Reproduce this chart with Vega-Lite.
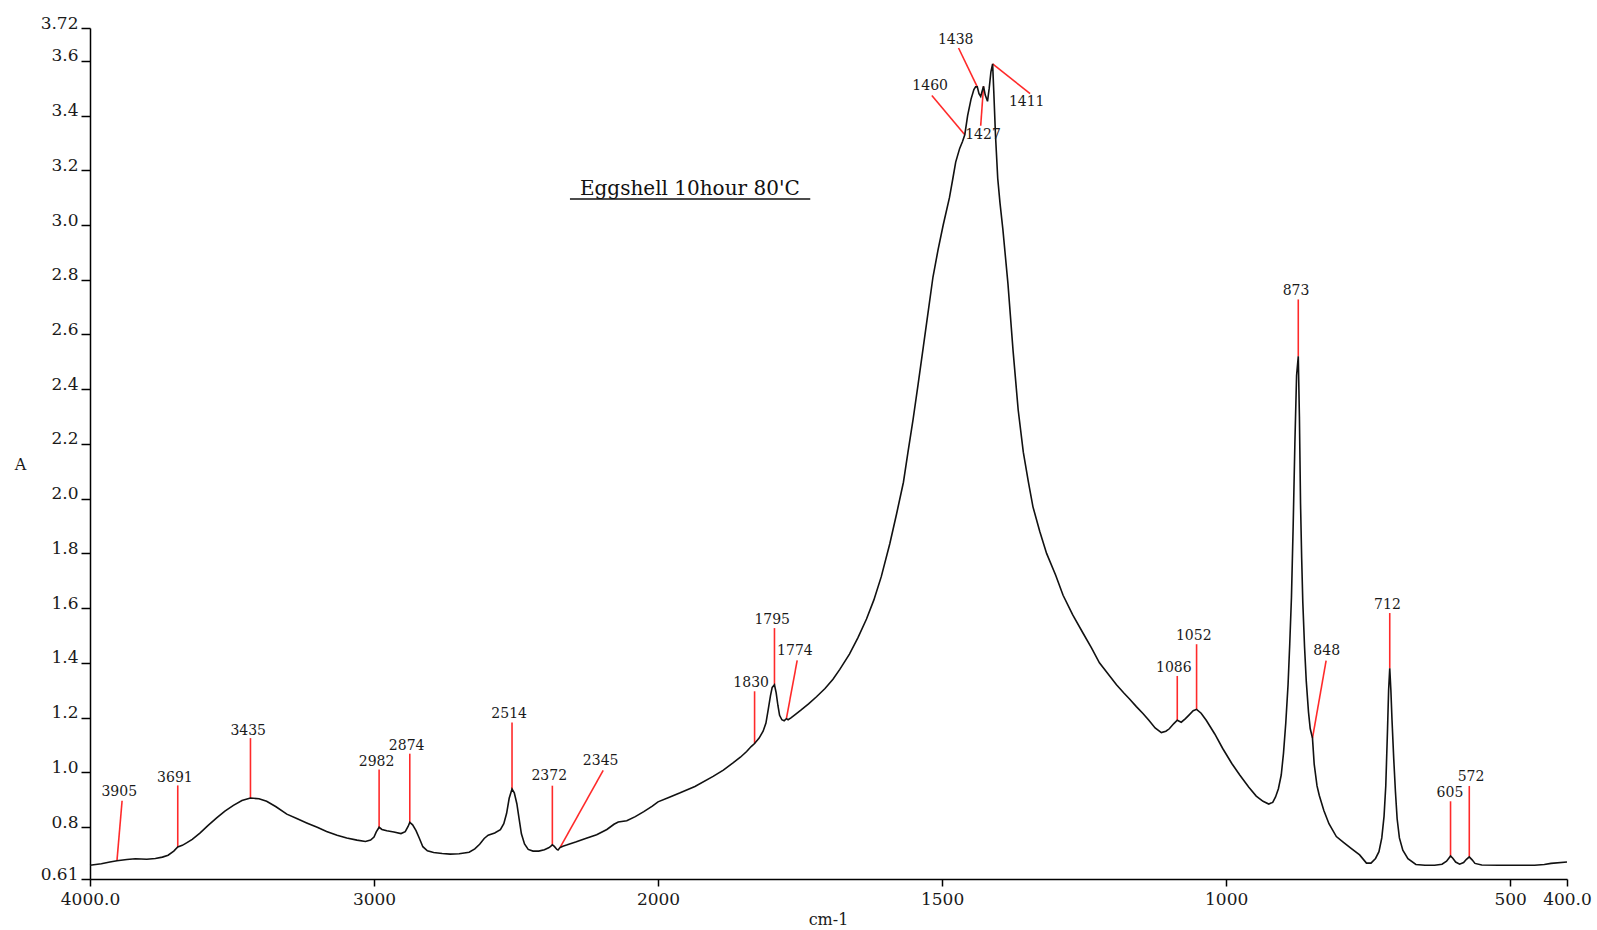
{
  "$schema": "https://vega.github.io/schema/vega-lite/v6.json",
  "width": 1477,
  "height": 851,
  "autosize": "none",
  "padding": {"left": 90, "top": 28, "right": 30, "bottom": 51},
  "background": "white",
  "config": {"view": {"stroke": null}, "font": "DejaVu Serif"},
  "datasets": {
    "spectrum": [
      {"wn": 4000, "a": 0.66}, {"wn": 3960, "a": 0.666}, {"wn": 3930, "a": 0.672}, {"wn": 3905, "a": 0.677},
      {"wn": 3870, "a": 0.681}, {"wn": 3840, "a": 0.684}, {"wn": 3800, "a": 0.682}, {"wn": 3770, "a": 0.685},
      {"wn": 3745, "a": 0.69}, {"wn": 3725, "a": 0.697}, {"wn": 3705, "a": 0.712}, {"wn": 3691, "a": 0.727},
      {"wn": 3675, "a": 0.733}, {"wn": 3660, "a": 0.742}, {"wn": 3640, "a": 0.755}, {"wn": 3613, "a": 0.778},
      {"wn": 3585, "a": 0.805}, {"wn": 3554, "a": 0.833}, {"wn": 3525, "a": 0.858}, {"wn": 3495, "a": 0.879},
      {"wn": 3465, "a": 0.897}, {"wn": 3435, "a": 0.906}, {"wn": 3405, "a": 0.903}, {"wn": 3378, "a": 0.894},
      {"wn": 3345, "a": 0.874}, {"wn": 3307, "a": 0.847}, {"wn": 3270, "a": 0.83}, {"wn": 3237, "a": 0.815},
      {"wn": 3200, "a": 0.799}, {"wn": 3167, "a": 0.784}, {"wn": 3130, "a": 0.77}, {"wn": 3096, "a": 0.76},
      {"wn": 3060, "a": 0.752}, {"wn": 3030, "a": 0.747}, {"wn": 3012, "a": 0.752}, {"wn": 3000, "a": 0.763},
      {"wn": 2992, "a": 0.782}, {"wn": 2982, "a": 0.799}, {"wn": 2972, "a": 0.791}, {"wn": 2955, "a": 0.786},
      {"wn": 2930, "a": 0.782}, {"wn": 2905, "a": 0.776}, {"wn": 2890, "a": 0.783}, {"wn": 2880, "a": 0.802},
      {"wn": 2874, "a": 0.817}, {"wn": 2864, "a": 0.808}, {"wn": 2852, "a": 0.787}, {"wn": 2840, "a": 0.758},
      {"wn": 2828, "a": 0.728}, {"wn": 2812, "a": 0.713}, {"wn": 2790, "a": 0.707}, {"wn": 2760, "a": 0.703},
      {"wn": 2732, "a": 0.701}, {"wn": 2700, "a": 0.702}, {"wn": 2665, "a": 0.708}, {"wn": 2645, "a": 0.72},
      {"wn": 2628, "a": 0.737}, {"wn": 2612, "a": 0.758}, {"wn": 2598, "a": 0.77}, {"wn": 2575, "a": 0.778},
      {"wn": 2555, "a": 0.79}, {"wn": 2543, "a": 0.812}, {"wn": 2533, "a": 0.85}, {"wn": 2524, "a": 0.905},
      {"wn": 2514, "a": 0.939}, {"wn": 2506, "a": 0.925}, {"wn": 2497, "a": 0.885}, {"wn": 2489, "a": 0.83},
      {"wn": 2481, "a": 0.775}, {"wn": 2470, "a": 0.738}, {"wn": 2457, "a": 0.718}, {"wn": 2440, "a": 0.712},
      {"wn": 2420, "a": 0.712}, {"wn": 2400, "a": 0.717}, {"wn": 2385, "a": 0.724}, {"wn": 2378, "a": 0.729},
      {"wn": 2372, "a": 0.735}, {"wn": 2365, "a": 0.729}, {"wn": 2356, "a": 0.718}, {"wn": 2352, "a": 0.716},
      {"wn": 2345, "a": 0.725}, {"wn": 2335, "a": 0.73}, {"wn": 2322, "a": 0.734}, {"wn": 2290, "a": 0.745},
      {"wn": 2255, "a": 0.758}, {"wn": 2216, "a": 0.772}, {"wn": 2180, "a": 0.791}, {"wn": 2155, "a": 0.81},
      {"wn": 2140, "a": 0.818}, {"wn": 2110, "a": 0.823}, {"wn": 2080, "a": 0.838}, {"wn": 2050, "a": 0.856},
      {"wn": 2020, "a": 0.876}, {"wn": 2000, "a": 0.892}, {"wn": 1980, "a": 0.909}, {"wn": 1962, "a": 0.924},
      {"wn": 1935, "a": 0.948}, {"wn": 1903, "a": 0.985}, {"wn": 1885, "a": 1.008}, {"wn": 1868, "a": 1.034},
      {"wn": 1855, "a": 1.055}, {"wn": 1844, "a": 1.076}, {"wn": 1836, "a": 1.094}, {"wn": 1830, "a": 1.105},
      {"wn": 1822, "a": 1.125}, {"wn": 1815, "a": 1.15}, {"wn": 1810, "a": 1.18}, {"wn": 1806, "a": 1.229},
      {"wn": 1802, "a": 1.28}, {"wn": 1799, "a": 1.31}, {"wn": 1795, "a": 1.32}, {"wn": 1792, "a": 1.29},
      {"wn": 1789, "a": 1.245}, {"wn": 1786, "a": 1.208}, {"wn": 1782, "a": 1.192}, {"wn": 1778, "a": 1.188},
      {"wn": 1774, "a": 1.196}, {"wn": 1771, "a": 1.192}, {"wn": 1766, "a": 1.199}, {"wn": 1758, "a": 1.212},
      {"wn": 1748, "a": 1.228}, {"wn": 1735, "a": 1.25}, {"wn": 1721, "a": 1.276}, {"wn": 1706, "a": 1.306},
      {"wn": 1692, "a": 1.34}, {"wn": 1680, "a": 1.376}, {"wn": 1663, "a": 1.432}, {"wn": 1648, "a": 1.492},
      {"wn": 1633, "a": 1.56}, {"wn": 1620, "a": 1.63}, {"wn": 1607, "a": 1.715}, {"wn": 1592, "a": 1.835},
      {"wn": 1580, "a": 1.945}, {"wn": 1568, "a": 2.06}, {"wn": 1560, "a": 2.17}, {"wn": 1551, "a": 2.29},
      {"wn": 1542, "a": 2.42}, {"wn": 1533, "a": 2.555}, {"wn": 1524, "a": 2.69}, {"wn": 1516, "a": 2.81},
      {"wn": 1507, "a": 2.91}, {"wn": 1498, "a": 3.0}, {"wn": 1487, "a": 3.1}, {"wn": 1481, "a": 3.17},
      {"wn": 1476, "a": 3.23}, {"wn": 1469, "a": 3.28}, {"wn": 1464, "a": 3.305}, {"wn": 1460, "a": 3.33},
      {"wn": 1455, "a": 3.4}, {"wn": 1449, "a": 3.46}, {"wn": 1444, "a": 3.495}, {"wn": 1441, "a": 3.505},
      {"wn": 1438, "a": 3.505}, {"wn": 1435, "a": 3.48}, {"wn": 1432, "a": 3.47}, {"wn": 1430, "a": 3.485},
      {"wn": 1427, "a": 3.507}, {"wn": 1424, "a": 3.475}, {"wn": 1420, "a": 3.452}, {"wn": 1417, "a": 3.5},
      {"wn": 1414, "a": 3.56}, {"wn": 1411, "a": 3.589}, {"wn": 1409, "a": 3.49}, {"wn": 1406, "a": 3.33},
      {"wn": 1402, "a": 3.17}, {"wn": 1398, "a": 3.08}, {"wn": 1393, "a": 2.985}, {"wn": 1384, "a": 2.785},
      {"wn": 1375, "a": 2.54}, {"wn": 1366, "a": 2.324}, {"wn": 1357, "a": 2.17}, {"wn": 1348, "a": 2.06},
      {"wn": 1340, "a": 1.97}, {"wn": 1328, "a": 1.88}, {"wn": 1316, "a": 1.8}, {"wn": 1300, "a": 1.72},
      {"wn": 1287, "a": 1.647}, {"wn": 1270, "a": 1.575}, {"wn": 1252, "a": 1.509}, {"wn": 1237, "a": 1.455},
      {"wn": 1223, "a": 1.4}, {"wn": 1208, "a": 1.36}, {"wn": 1193, "a": 1.32}, {"wn": 1180, "a": 1.29},
      {"wn": 1170, "a": 1.268}, {"wn": 1158, "a": 1.24}, {"wn": 1146, "a": 1.214}, {"wn": 1136, "a": 1.19},
      {"wn": 1125, "a": 1.162}, {"wn": 1114, "a": 1.145}, {"wn": 1106, "a": 1.15}, {"wn": 1100, "a": 1.159},
      {"wn": 1092, "a": 1.178}, {"wn": 1086, "a": 1.19}, {"wn": 1079, "a": 1.183}, {"wn": 1072, "a": 1.195},
      {"wn": 1065, "a": 1.21}, {"wn": 1058, "a": 1.225}, {"wn": 1052, "a": 1.23}, {"wn": 1044, "a": 1.216},
      {"wn": 1035, "a": 1.19}, {"wn": 1020, "a": 1.14}, {"wn": 1006, "a": 1.087}, {"wn": 990, "a": 1.032},
      {"wn": 976, "a": 0.99}, {"wn": 960, "a": 0.945}, {"wn": 947, "a": 0.913}, {"wn": 935, "a": 0.894},
      {"wn": 925, "a": 0.884}, {"wn": 918, "a": 0.89}, {"wn": 913, "a": 0.91}, {"wn": 908, "a": 0.94},
      {"wn": 903, "a": 0.99}, {"wn": 899, "a": 1.07}, {"wn": 895, "a": 1.18}, {"wn": 891, "a": 1.32},
      {"wn": 888, "a": 1.47}, {"wn": 885, "a": 1.64}, {"wn": 882, "a": 1.9}, {"wn": 879, "a": 2.2},
      {"wn": 876, "a": 2.45}, {"wn": 873, "a": 2.52}, {"wn": 871, "a": 2.3}, {"wn": 869, "a": 1.98},
      {"wn": 867, "a": 1.78}, {"wn": 865, "a": 1.62}, {"wn": 862, "a": 1.46}, {"wn": 859, "a": 1.335},
      {"wn": 855, "a": 1.22}, {"wn": 852, "a": 1.16}, {"wn": 848, "a": 1.125}, {"wn": 845, "a": 1.03},
      {"wn": 840, "a": 0.95}, {"wn": 836, "a": 0.915}, {"wn": 828, "a": 0.86}, {"wn": 819, "a": 0.812},
      {"wn": 806, "a": 0.765}, {"wn": 794, "a": 0.745}, {"wn": 780, "a": 0.722}, {"wn": 765, "a": 0.698},
      {"wn": 753, "a": 0.668}, {"wn": 745, "a": 0.668}, {"wn": 737, "a": 0.685}, {"wn": 731, "a": 0.71},
      {"wn": 726, "a": 0.76}, {"wn": 722, "a": 0.84}, {"wn": 719, "a": 0.95}, {"wn": 716, "a": 1.15},
      {"wn": 714, "a": 1.3}, {"wn": 712, "a": 1.38}, {"wn": 710, "a": 1.3}, {"wn": 708, "a": 1.19},
      {"wn": 705, "a": 1.05}, {"wn": 702, "a": 0.93}, {"wn": 699, "a": 0.83}, {"wn": 695, "a": 0.76},
      {"wn": 689, "a": 0.715}, {"wn": 680, "a": 0.684}, {"wn": 666, "a": 0.663}, {"wn": 650, "a": 0.66},
      {"wn": 633, "a": 0.66}, {"wn": 620, "a": 0.664}, {"wn": 612, "a": 0.675}, {"wn": 608, "a": 0.686},
      {"wn": 605, "a": 0.694}, {"wn": 601, "a": 0.686}, {"wn": 596, "a": 0.672}, {"wn": 589, "a": 0.664},
      {"wn": 582, "a": 0.67}, {"wn": 577, "a": 0.682}, {"wn": 572, "a": 0.691}, {"wn": 567, "a": 0.68},
      {"wn": 562, "a": 0.667}, {"wn": 550, "a": 0.661}, {"wn": 520, "a": 0.66}, {"wn": 480, "a": 0.66},
      {"wn": 457, "a": 0.66}, {"wn": 440, "a": 0.663}, {"wn": 428, "a": 0.667}, {"wn": 400, "a": 0.672}
    ],
    "leaders": [
      {"peak": 3905, "wn": 3887, "a": 0.896, "wn2": 3905, "a2": 0.677},
      {"peak": 3691, "wn": 3691, "a": 0.952, "wn2": 3691, "a2": 0.727},
      {"peak": 3435, "wn": 3435, "a": 1.125, "wn2": 3435, "a2": 0.906},
      {"peak": 2982, "wn": 2982, "a": 1.01, "wn2": 2982, "a2": 0.799},
      {"peak": 2874, "wn": 2874, "a": 1.068, "wn2": 2874, "a2": 0.817},
      {"peak": 2514, "wn": 2514, "a": 1.182, "wn2": 2514, "a2": 0.939},
      {"peak": 2372, "wn": 2372, "a": 0.951, "wn2": 2372, "a2": 0.735},
      {"peak": 2345, "wn": 2193, "a": 1.007, "wn2": 2345, "a2": 0.725},
      {"peak": 1830, "wn": 1830, "a": 1.296, "wn2": 1830, "a2": 1.105},
      {"peak": 1795, "wn": 1795, "a": 1.527, "wn2": 1795, "a2": 1.32},
      {"peak": 1774, "wn": 1755, "a": 1.409, "wn2": 1774, "a2": 1.196},
      {"peak": 1460, "wn": 1518, "a": 3.473, "wn2": 1460, "a2": 3.33},
      {"peak": 1438, "wn": 1471, "a": 3.647, "wn2": 1438, "a2": 3.505},
      {"peak": 1427, "wn": 1432, "a": 3.363, "wn2": 1427, "a2": 3.507},
      {"peak": 1411, "wn": 1345, "a": 3.48, "wn2": 1411, "a2": 3.589},
      {"peak": 1086, "wn": 1086, "a": 1.352, "wn2": 1086, "a2": 1.19},
      {"peak": 1052, "wn": 1052, "a": 1.468, "wn2": 1052, "a2": 1.23},
      {"peak": 873, "wn": 873, "a": 2.728, "wn2": 873, "a2": 2.52},
      {"peak": 848, "wn": 824, "a": 1.408, "wn2": 848, "a2": 1.125},
      {"peak": 712, "wn": 712, "a": 1.582, "wn2": 712, "a2": 1.38},
      {"peak": 605, "wn": 605, "a": 0.894, "wn2": 605, "a2": 0.694},
      {"peak": 572, "wn": 572, "a": 0.95, "wn2": 572, "a2": 0.691}
    ],
    "labels": [
      {"label": "3905", "wn": 3897, "a": 0.927},
      {"label": "3691", "wn": 3701, "a": 0.979},
      {"label": "3435", "wn": 3443, "a": 1.152},
      {"label": "2982", "wn": 2991, "a": 1.036},
      {"label": "2874", "wn": 2885, "a": 1.097},
      {"label": "2514", "wn": 2524, "a": 1.213},
      {"label": "2372", "wn": 2383, "a": 0.985},
      {"label": "2345", "wn": 2202, "a": 1.04},
      {"label": "1830", "wn": 1836, "a": 1.326},
      {"label": "1795", "wn": 1799, "a": 1.558},
      {"label": "1774", "wn": 1759, "a": 1.442},
      {"label": "1460", "wn": 1521, "a": 3.507},
      {"label": "1438", "wn": 1476, "a": 3.675},
      {"label": "1427", "wn": 1428, "a": 3.33},
      {"label": "1411", "wn": 1351, "a": 3.448},
      {"label": "1086", "wn": 1092, "a": 1.38},
      {"label": "1052", "wn": 1057, "a": 1.499},
      {"label": "873", "wn": 877, "a": 2.76},
      {"label": "848", "wn": 823, "a": 1.444},
      {"label": "712", "wn": 716, "a": 1.61},
      {"label": "605", "wn": 606, "a": 0.924},
      {"label": "572", "wn": 569, "a": 0.984}
    ],
    "heading": [
      {"text": "Eggshell 10hour 80'C", "wn": 1944, "a": 3.111}
    ],
    "underline": [
      {"wn": 2310, "wn2": 1732, "a": 3.095}
    ]
  },
  "encoding": {
    "x": {
      "field": "wn",
      "type": "quantitative",
      "scale": {"domain": [4000, 2000, 400], "range": [0, 568, 1477], "nice": false, "zero": false},
      "axis": {
        "title": "cm-1",
        "values": [4000, 3000, 2000, 1500, 1000, 500, 400],
        "labelExpr": "datum.value == 4000 || datum.value == 400 ? format(datum.value, '.1f') : format(datum.value, 'd')",
        "grid": false,
        "domainColor": "#000000",
        "domainWidth": 1.5,
        "tickColor": "#000000",
        "tickWidth": 1.5,
        "tickSize": 7,
        "labelFont": "DejaVu Serif",
        "labelFontSize": 17,
        "labelColor": "#1a1a1a",
        "labelPadding": 5,
        "labelBaseline": "top",
        "labelOverlap": false,
        "labelFlush": false,
        "titleFont": "DejaVu Serif",
        "titleFontSize": 16,
        "titleFontWeight": "normal",
        "titleColor": "#1a1a1a",
        "titleX": 738,
        "titleY": 40,
        "titleAlign": "center",
        "titleBaseline": "middle"
      }
    },
    "y": {
      "field": "a",
      "type": "quantitative",
      "scale": {"domain": [0.61, 3.72], "nice": false, "zero": false},
      "axis": {
        "title": "A",
        "values": [0.61, 0.8, 1.0, 1.2, 1.4, 1.6, 1.8, 2.0, 2.2, 2.4, 2.6, 2.8, 3.0, 3.2, 3.4, 3.6, 3.72],
        "labelExpr": "datum.value == 0.61 || datum.value == 3.72 ? format(datum.value, '.2f') : format(datum.value, '.1f')",
        "grid": false,
        "domainColor": "#000000",
        "domainWidth": 1.5,
        "tickColor": "#000000",
        "tickWidth": 1.5,
        "tickSize": 9,
        "labelFont": "DejaVu Serif",
        "labelFontSize": 17,
        "labelColor": "#1a1a1a",
        "labelPadding": 3,
        "labelAlign": "right",
        "labelBaseline": "alphabetic",
        "labelOverlap": false,
        "labelFlush": false,
        "titleFont": "DejaVu Serif",
        "titleFontSize": 16,
        "titleFontWeight": "normal",
        "titleColor": "#1a1a1a",
        "titleAngle": 0,
        "titleX": -70,
        "titleY": 436,
        "titleAlign": "center",
        "titleBaseline": "middle"
      }
    }
  },
  "layer": [
    {
      "data": {"name": "leaders"},
      "mark": {"type": "rule", "color": "#ff2a2a", "strokeWidth": 1.6},
      "encoding": {
        "x2": {"field": "wn2"},
        "y2": {"field": "a2"}
      }
    },
    {
      "data": {"name": "spectrum"},
      "mark": {"type": "line", "color": "#111111", "strokeWidth": 1.6},
      "encoding": {}
    },
    {
      "data": {"name": "labels"},
      "mark": {"type": "text", "font": "DejaVu Serif", "fontSize": 14, "color": "#1a1a1a", "align": "center", "baseline": "middle"},
      "encoding": {"text": {"field": "label"}}
    },
    {
      "data": {"name": "heading"},
      "mark": {"type": "text", "font": "DejaVu Serif", "fontSize": 20, "color": "#111111", "align": "center", "baseline": "alphabetic"},
      "encoding": {"text": {"field": "text"}}
    },
    {
      "data": {"name": "underline"},
      "mark": {"type": "rule", "color": "#111111", "strokeWidth": 1.4},
      "encoding": {"x2": {"field": "wn2"}}
    }
  ]
}
